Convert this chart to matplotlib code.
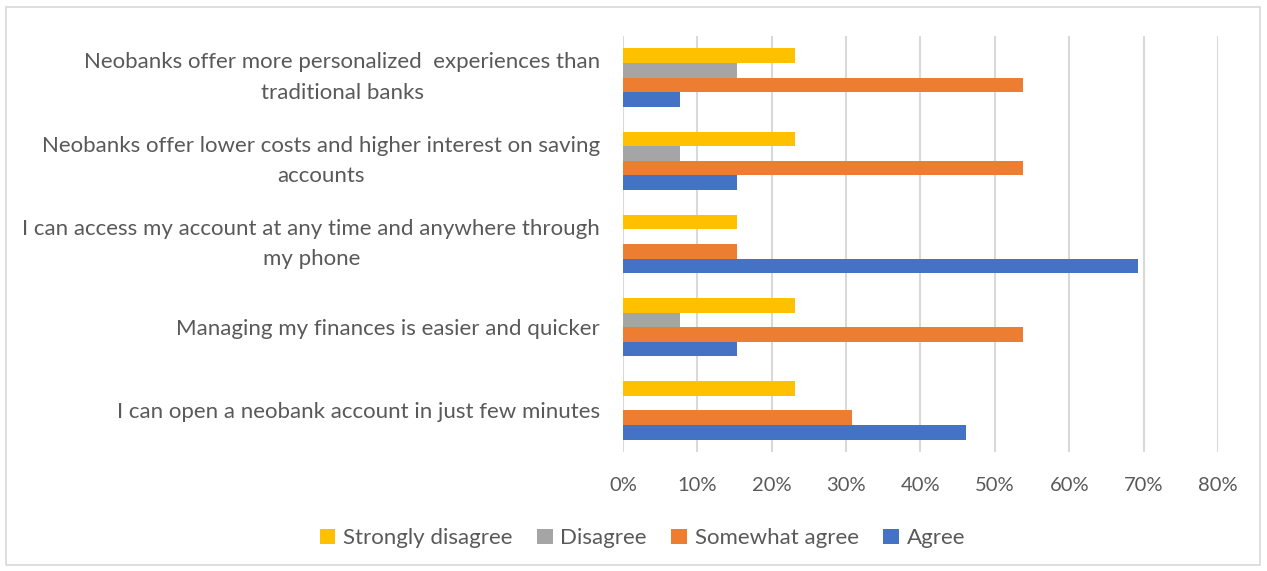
import matplotlib.pyplot as plt
from matplotlib.patches import Rectangle
import numpy as np

# survey statements, top to bottom
statements = [
    "Neobanks offer more personalized  experiences than\ntraditional banks",
    "Neobanks offer lower costs and higher interest on saving\naccounts",
    "I can access my account at any time and anywhere through\nmy phone",
    "Managing my finances is easier and quicker",
    "I can open a neobank account in just few minutes",
]
series = ["Strongly disagree", "Disagree", "Somewhat agree", "Agree"]
colors = ["#FFC000", "#A5A5A5", "#ED7D31", "#4472C4"]

# shares of respondents per statement (same order as statements)
strongly_disagree = [0.2308, 0.2308, 0.1538, 0.2308, 0.2308]
disagree = [0.1538, 0.0769, 0.0, 0.0769, 0.0]
somewhat_agree = [0.5385, 0.5385, 0.1538, 0.5385, 0.3077]
agree = [0.0769, 0.1538, 0.6923, 0.1538, 0.4615]

xticks = np.arange(0, 0.81, 0.1)
xtick_labels = ["0%", "10%", "20%", "30%", "40%", "50%", "60%", "70%", "80%"]

plt.rcParams['font.family'] = ['Lato', 'DejaVu Sans']
text_col = "#595959"

fig = plt.figure(figsize=(12.67, 5.71), dpi=100)
ax = fig.add_axes([0.4917, 0.2084, 0.4696, 0.7286])

n = len(statements)
ypos = np.arange(n)[::-1]  # first statement at the top
bh = 0.175
values = [strongly_disagree, disagree, somewhat_agree, agree]
offsets = [1.5 * bh, 0.5 * bh, -0.5 * bh, -1.5 * bh]
for vals, off, col, name in zip(values, offsets, colors, series):
    ax.barh(ypos + off, vals, height=bh, color=col, label=name, zorder=3)

ax.set_xlim(0, 0.8)
ax.set_ylim(-0.5, n - 0.5)
ax.set_xticks(xticks)
ax.set_xticklabels(xtick_labels)
ax.set_yticks(ypos)
ax.set_yticklabels(statements, multialignment="center", linespacing=1.65)
# two-line labels: centre the whole block on the group
for lab in ax.get_yticklabels():
    if "\n" in lab.get_text():
        lab.set_verticalalignment("center")
ax.tick_params(axis="both", length=0, colors=text_col)
ax.tick_params(axis="x", pad=18, labelsize=14.5)
ax.tick_params(axis="y", pad=16.5, labelsize=16)
ax.xaxis.grid(True, color="#D9D9D9", linewidth=1.5, zorder=0)
for s in ax.spines.values():
    s.set_visible(False)

leg = fig.legend(loc="center", bbox_to_anchor=(0.507, 0.057), ncol=4, frameon=False,
                 fontsize=16, handlelength=0.7, handleheight=0.7,
                 handletextpad=0.35, columnspacing=1.1)
for t in leg.get_texts():
    t.set_color(text_col)

# thin chart border
fig.patches.append(Rectangle((6 / 1267, 6 / 571), 1 - 13 / 1267, 1 - 13 / 571,
                             transform=fig.transFigure, fill=False,
                             edgecolor="#D9D9D9", linewidth=1.2))

fig.savefig("out.png", dpi=100)
